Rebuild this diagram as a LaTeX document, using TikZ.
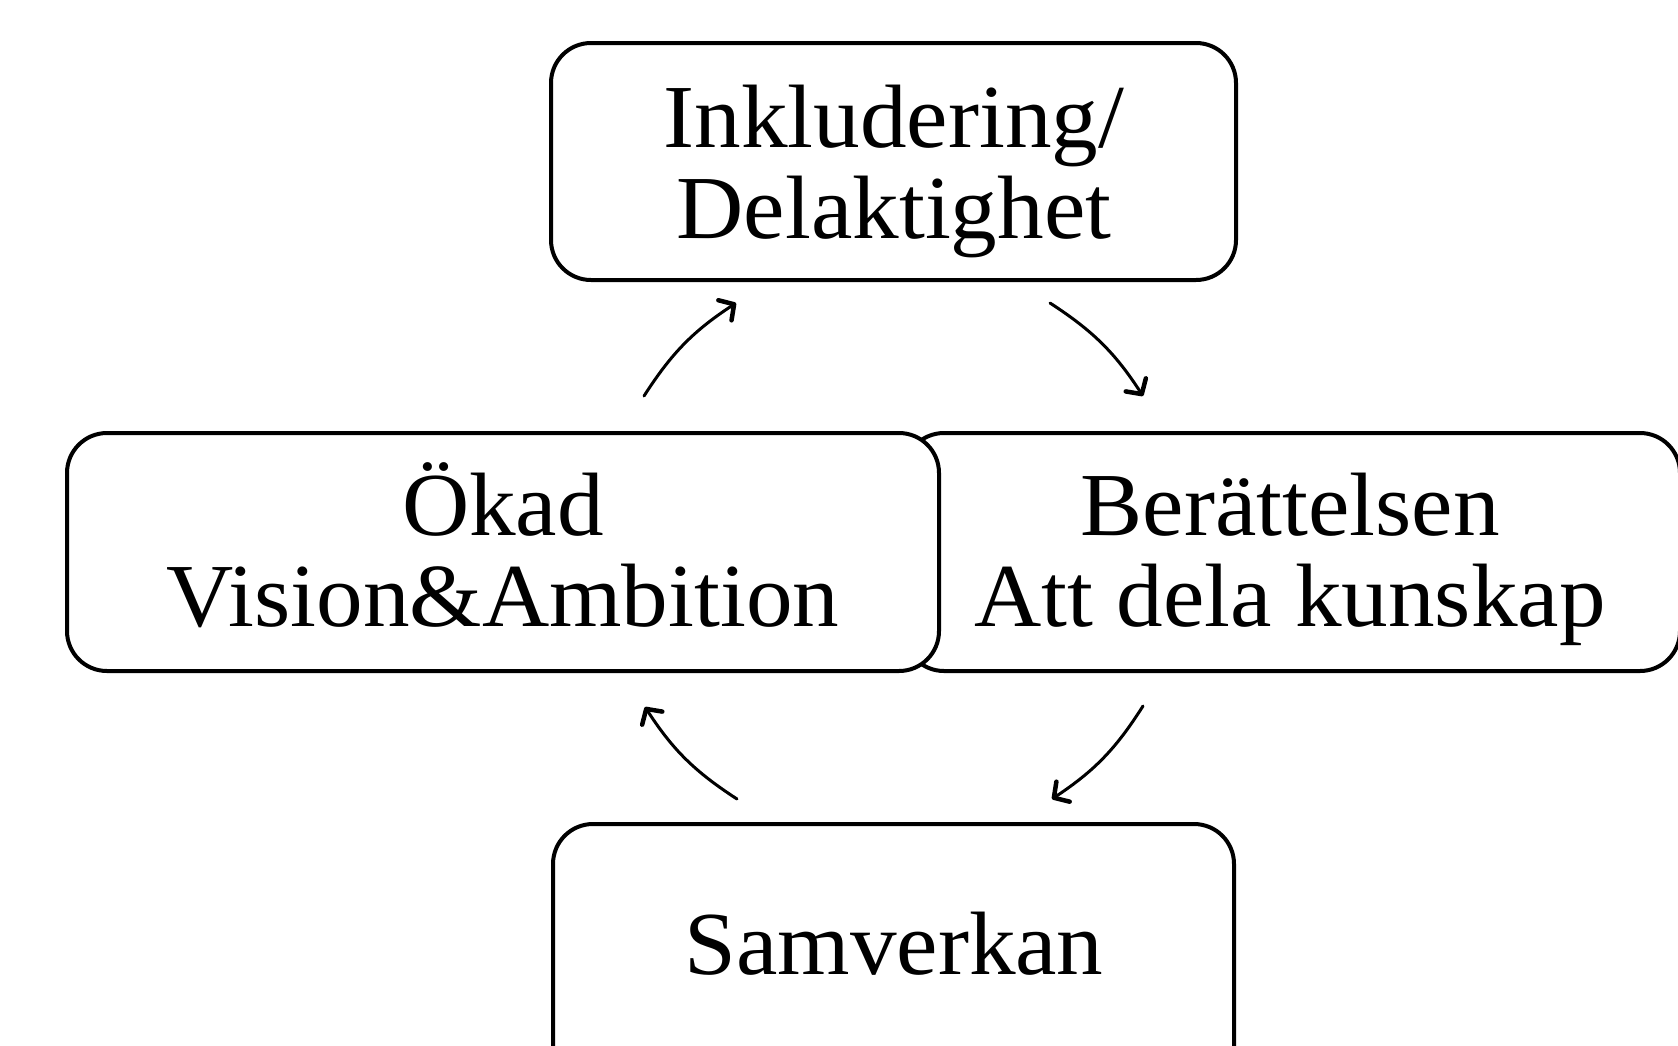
\documentclass[tikz,border=0pt]{standalone}
\usepackage{fontspec}
\setmainfont[FakeStretch=1.035]{Liberation Serif}
\usetikzlibrary{arrows.meta}
\begin{document}
\begin{tikzpicture}[x=1pt,y=-1pt,
  box/.style={draw=black, line width=4pt, rounded corners=40pt, fill=white, inner sep=0pt},
  lbl/.style={anchor=base, inner sep=0pt, font=\fontsize{90}{91}\selectfont},
  cyc/.style={line width=3pt, line cap=round, -{Straight Barb[length=11pt,width=24pt,line width=4.5pt,round]}}]
\clip (0,0) rectangle (1678,1045);
\fill[white] (0,0) rectangle (1678,1045);
% boxes
\node[box, minimum width=685pt, minimum height=237pt] (incl) at (893.5,161.5) {};
\node[box, minimum width=776pt, minimum height=238pt] (ber) at (1292,552) {};
\node[box, minimum width=872pt, minimum height=238pt] (okad) at (503,552) {};
\node[box, minimum width=681pt, minimum height=276pt] (samv) at (893.5,962) {};
% texts
\node[lbl] (t1) at (894,147) {Inkludering/};
\node[lbl] (t2) at (894,238) {Delaktighet};
\node[lbl] (t3) at (503,535) {Ökad};
\node[lbl] (t4) at (503,626) {Vision\&Ambition};
\node[lbl] (t5) at (1290,535) {Berättelsen};
\node[lbl] (t6) at (1290,626) {Att dela kunskap};
\node[lbl] (t7) at (894,974) {Samverkan};
% arrows
\coordinate (a1s) at (644,396);
\coordinate (a1e) at (736,303);
\coordinate (a2s) at (1050,303);
\coordinate (a2e) at (1143,396);
\coordinate (a3s) at (1143,706);
\coordinate (a3e) at (1052,799);
\coordinate (a4s) at (737,799);
\coordinate (a4e) at (645,707);
\draw[cyc] (a1s) to[bend left=12] (a1e);
\draw[cyc] (a2s) to[bend left=12] (a2e);
\draw[cyc] (a3s) to[bend left=12] (a3e);
\draw[cyc] (a4s) to[bend left=12] (a4e);
\end{tikzpicture}
\end{document}
